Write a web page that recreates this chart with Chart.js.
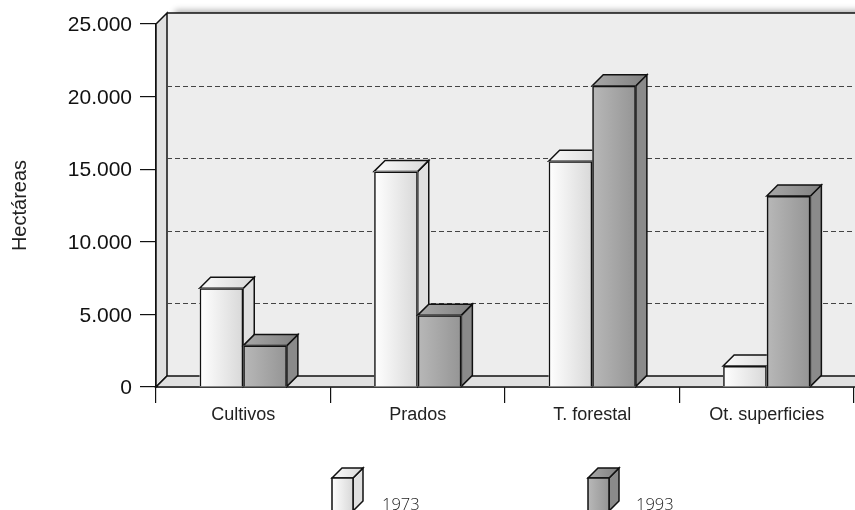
<!DOCTYPE html>
<html>
<head>
<meta charset="utf-8">
<script src="https://cdn.jsdelivr.net/npm/chart.js@4"></script>
<style>
  html, body { margin: 0; padding: 0; background: #fff; overflow: hidden; }
  #wrap { width: 855px; height: 510px; }
</style>
</head>
<body>
<div id="wrap"><canvas id="chart" width="855" height="510"></canvas></div>
<script>
const categories = ['Cultivos', 'Prados', 'T. forestal', 'Ot. superficies'];
const seriesNames = ['1973', '1993'];
const values1973 = [6800, 14850, 15550, 1450];
const values1993 = [2850, 4950, 20750, 13150];
const yTickLabels = ['0', '5.000', '10.000', '15.000', '20.000', '25.000'];

const depth = 11;
const lineColor = '#111';
const edge = 1.5;
const skins = [
  { left: '#ffffff', right: '#d8d8d8', side: '#e0e0e0', topA: '#fafafa', topB: '#d8d8d8' },
  { left: '#b8b8b8', right: '#959595', side: '#8a8a8a', topA: '#a8a8a8', topB: '#808080' }
];

function poly(ctx, pts, fill) {
  ctx.beginPath();
  pts.forEach((p, i) => i ? ctx.lineTo(p[0], p[1]) : ctx.moveTo(p[0], p[1]));
  ctx.closePath();
  ctx.fillStyle = fill;
  ctx.fill();
  ctx.stroke();
}

// side and top faces of a box, then the front gradient
function drawBox(ctx, x0, x1, top, bottom, skin, d) {
  ctx.strokeStyle = lineColor;
  ctx.lineWidth = edge;
  poly(ctx, [[x1, top], [x1 + d, top - d], [x1 + d, bottom - d], [x1, bottom]], skin.side);
  const topGrad = ctx.createLinearGradient(x0, 0, x1 + d, 0);
  topGrad.addColorStop(0, skin.topA);
  topGrad.addColorStop(1, skin.topB);
  poly(ctx, [[x0, top], [x0 + d, top - d], [x1 + d, top - d], [x1, top]], topGrad);
  const grad = ctx.createLinearGradient(x0, 0, x1, 0);
  grad.addColorStop(0, skin.left);
  grad.addColorStop(1, skin.right);
  ctx.fillStyle = grad;
  ctx.fillRect(x0, top, x1 - x0, bottom - top);
}

const room = {
  id: 'room',
  beforeDatasetsDraw(chart) {
    const ctx = chart.ctx, a = chart.chartArea, y = chart.scales.y;
    const right = chart.width;
    ctx.save();
    // back wall with its soft shadow along the top
    ctx.save();
    ctx.shadowColor = 'rgba(0,0,0,0.3)';
    ctx.shadowBlur = 6;
    ctx.shadowOffsetX = 8;
    ctx.shadowOffsetY = -3;
    ctx.fillStyle = '#ededed';
    ctx.fillRect(a.left + depth, a.top - depth, right - a.left, a.bottom - a.top);
    ctx.restore();
    ctx.fillStyle = '#ededed';
    ctx.fillRect(a.left + depth, a.top - depth, right - a.left, a.bottom - a.top);

    ctx.strokeStyle = lineColor;
    ctx.lineWidth = edge;
    poly(ctx, [[a.left, a.top], [a.left + depth, a.top - depth], [a.left + depth, a.bottom - depth], [a.left, a.bottom]], '#e0e0e0');
    poly(ctx, [[a.left, a.bottom], [a.left + depth, a.bottom - depth], [right + 5, a.bottom - depth], [right + 5, a.bottom]], '#e0e0e0');
    ctx.beginPath();
    ctx.moveTo(a.left + depth, a.top - depth);
    ctx.lineTo(right, a.top - depth);
    ctx.stroke();

    // dashed grid sits on the back wall
    ctx.strokeStyle = '#444';
    ctx.lineWidth = 1;
    ctx.setLineDash([5, 3]);
    y.ticks.forEach(t => {
      if (t.value === 0 || t.value === y.max) return;
      const py = Math.round(y.getPixelForValue(t.value) - depth) + 0.5;
      ctx.beginPath();
      ctx.moveTo(a.left + depth, py);
      ctx.lineTo(right, py);
      ctx.stroke();
    });
    ctx.restore();
  },
  beforeDatasetDraw() {
    return false;
  },
  afterDatasetsDraw(chart) {
    const ctx = chart.ctx;
    const metas = chart.data.datasets.map((d, i) => chart.getDatasetMeta(i));
    categories.forEach((c, i) => {
      metas.forEach((meta, s) => {
        const bar = meta.data[i];
        const half = bar.width / 2;
        ctx.save();
        drawBox(ctx, bar.x - half, bar.x + half, bar.y, bar.base, skins[s], depth);
        ctx.restore();
        bar.draw(ctx);
      });
    });
  },
  afterDraw(chart) {
    const ctx = chart.ctx;
    const spots = [{ box: 332, text: 382 }, { box: 588, text: 636 }];
    chart.data.datasets.forEach((d, s) => {
      const x0 = spots[s].box, x1 = x0 + 21, top = 478, bottom = 511;
      ctx.save();
      drawBox(ctx, x0, x1, top, bottom, skins[s], 10);
      ctx.strokeRect(x0, top, x1 - x0, bottom - top);
      ctx.fillStyle = '#222';
      ctx.font = '300 16.5px "Open Sans"';
      ctx.textAlign = 'left';
      ctx.textBaseline = 'alphabetic';
      ctx.fillText(d.label, spots[s].text, 510);
      ctx.restore();
    });
  }
};

new Chart(document.getElementById('chart'), {
  type: 'bar',
  data: {
    labels: categories,
    datasets: [
      { label: seriesNames[0], data: values1973, backgroundColor: 'rgba(0,0,0,0)', borderColor: lineColor, borderWidth: edge, categoryPercentage: 0.5, barPercentage: 1 },
      { label: seriesNames[1], data: values1993, backgroundColor: 'rgba(0,0,0,0)', borderColor: lineColor, borderWidth: edge, categoryPercentage: 0.5, barPercentage: 1 }
    ]
  },
  options: {
    responsive: false,
    animation: false,
    layout: { padding: { top: 24, right: 1, left: 0, bottom: 0 } },
    scales: {
      x: {
        afterFit: s => { s.height = 123; },
        grid: { drawOnChartArea: false, tickLength: 16, color: '#111', offset: true, lineWidth: 1.2 },
        border: { color: '#111', width: 1.2 },
        ticks: { color: '#222', font: { family: 'Liberation Sans', size: 18 }, padding: 1, maxRotation: 0 }
      },
      y: {
        min: 0,
        max: 25000,
        afterFit: s => { s.width = 156; },
        grid: { drawOnChartArea: false, tickLength: 16, color: '#111', lineWidth: 1.2 },
        border: { color: '#111', width: 1.2 },
        title: {
          display: true,
          text: 'Hectáreas',
          color: '#222',
          font: { family: 'Liberation Sans', size: 20 },
          padding: { top: 8, bottom: 0 }
        },
        ticks: {
          stepSize: 5000,
          color: '#111',
          padding: 8,
          labelOffset: 1.5,
          font: { family: 'Liberation Sans', size: 21 },
          callback: (v, i) => yTickLabels[i]
        }
      }
    },
    plugins: {
      colors: { enabled: false },
      legend: { display: false },
      tooltip: { enabled: false }
    }
  },
  plugins: [room]
});
</script>
</body>
</html>
